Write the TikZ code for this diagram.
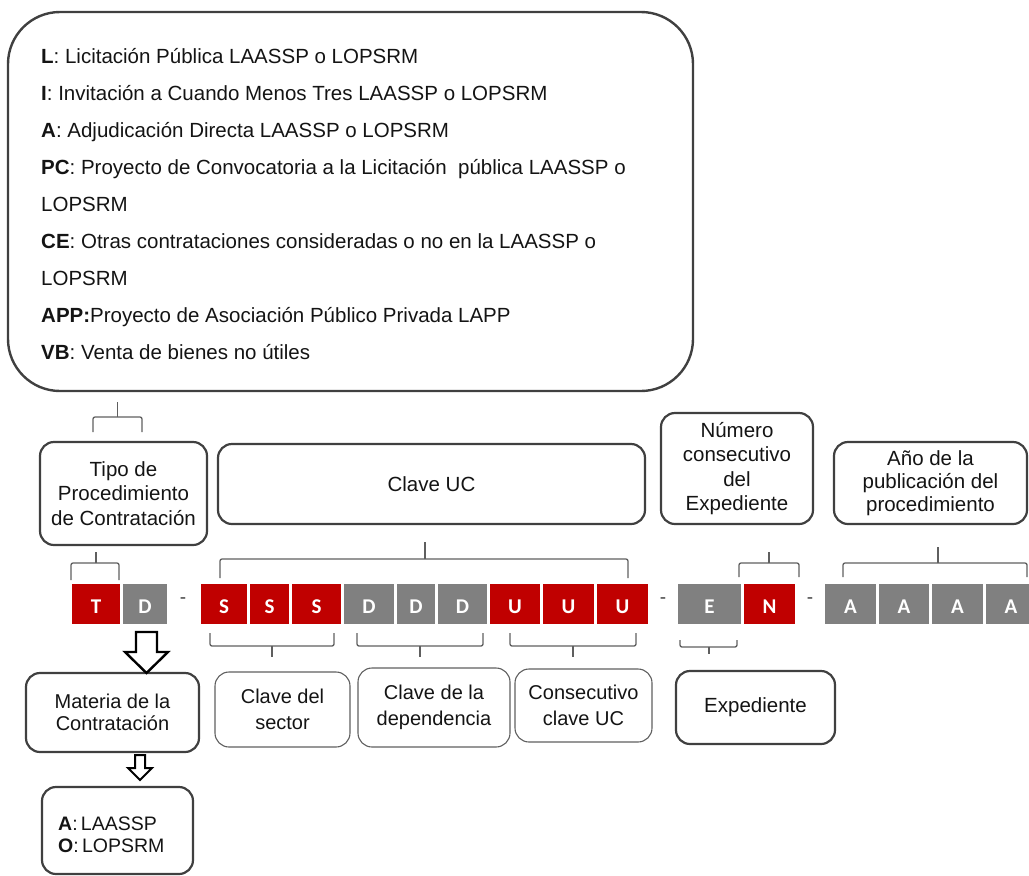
\documentclass[tikz,border=0pt]{standalone}
\usepackage{fontspec}
\setmainfont{Liberation Sans}
\newfontfamily\codefont{Carlito}
\definecolor{cred}{RGB}{192,0,0}
\definecolor{cgray}{RGB}{128,128,128}
\definecolor{bord}{RGB}{64,64,64}
\definecolor{brk}{RGB}{95,95,95}
\definecolor{txt}{RGB}{20,20,20}
\begin{document}
\begin{tikzpicture}[x=1pt,y=-1pt,
 rbox/.style={draw=bord, line width=2.2pt, rounded corners=14pt, align=center, inner sep=0pt, text=txt, font=\fontsize{20.5}{24.5}\selectfont},
 tbox/.style={rbox, line width=1.1pt, draw=brk, font=\fontsize{20}{25.5}\selectfont},
 cell/.style={draw=white, line width=1.2pt, inner sep=0pt, minimum height=42pt, text height=19.5pt, text depth=0pt, text=white, font=\codefont\bfseries\fontsize{21}{21}\selectfont},
 redcell/.style={cell, fill=cred},
 graycell/.style={cell, fill=cgray},
 brack/.style={draw=brk, line width=1.3pt, rounded corners=2pt},
 hollow/.style={draw=black, line width=2.4pt, fill=white, line join=miter},
 legline/.style={anchor=base west, inner sep=0pt, text=txt, font=\fontsize{20.5}{24}\selectfont},
 dashmark/.style={inner sep=0pt, text=bord, font=\fontsize{19}{19}\selectfont},
]
\useasboundingbox (0,0) rectangle (1029,876);

% legend box
\node[draw=bord, line width=2.4pt, rounded corners=52pt, minimum width=685pt, minimum height=379pt, inner sep=0pt] (legend) at (350.5,201.5) {};
\node[legline] (l1) at (41,63) {\textbf{L}: Licitación Pública LAASSP o LOPSRM};
\node[legline] (l2) at (41,100) {\textbf{I}: Invitación a Cuando Menos Tres LAASSP o LOPSRM};
\node[legline] (l3) at (41,137) {\textbf{A}: Adjudicación Directa LAASSP o LOPSRM};
\node[legline] (l4) at (41,174) {\textbf{PC}: Proyecto de Convocatoria a la Licitación\ \ pública LAASSP o};
\node[legline] (l5) at (41,211) {LOPSRM};
\node[legline] (l6) at (41,248) {\textbf{CE}: Otras contrataciones consideradas o no en la LAASSP o};
\node[legline] (l7) at (41,285) {LOPSRM};
\node[legline] (l8) at (41,322) {\textbf{APP:}Proyecto de Asociación Público Privada LAPP};
\node[legline] (l9) at (41,359) {\textbf{VB}: Venta de bienes no útiles};

% upper label boxes
\node[rbox, minimum width=167pt, minimum height=103pt] (tipo) at (123.5,493.5) {Tipo de\\Procedimiento\\de Contratación};
\node[rbox, minimum width=427pt, minimum height=80pt] (claveuc) at (431.5,484) {Clave UC};
\node[rbox, minimum width=152pt, minimum height=111pt] (numero) at (737,468.5) {Número\\consecutivo\\del\\Expediente};
\node[rbox, minimum width=193pt, minimum height=82pt, font=\fontsize{20.5}{23}\selectfont] (anio) at (930.5,483) {Año de la\\publicación del\\procedimiento};

% code cells
\node[redcell, minimum width=50pt] (cT) at (96,604) {T};
\node[graycell, minimum width=46pt] (cD) at (145,604) {D};
\node[dashmark] (d1) at (183,601) {-};
\node[redcell, minimum width=48pt] (cS1) at (224,604) {S};
\node[redcell, minimum width=41pt] (cS2) at (269.5,604) {S};
\node[redcell, minimum width=51pt] (cS3) at (316.5,604) {S};
\node[graycell, minimum width=52pt] (cD1) at (369,604) {D};
\node[graycell, minimum width=40pt] (cD2) at (416,604) {D};
\node[graycell, minimum width=51pt] (cD3) at (462.5,604) {D};
\node[redcell, minimum width=52pt] (cU1) at (515,604) {U};
\node[redcell, minimum width=53pt] (cU2) at (568.5,604) {U};
\node[redcell, minimum width=53pt] (cU3) at (622.5,604) {U};
\node[dashmark] (d2) at (663,601) {-};
\node[graycell, minimum width=65pt] (cE) at (709.5,604) {E};
\node[redcell, minimum width=53pt] (cN) at (769.5,604) {N};
\node[dashmark] (d3) at (810,601) {-};
\node[graycell, minimum width=53pt] (cA1) at (850.5,604) {A};
\node[graycell, minimum width=52pt] (cA2) at (904,604) {A};
\node[graycell, minimum width=53pt] (cA3) at (957.5,604) {A};
\node[graycell, minimum width=52pt] (cA4) at (1011,604) {A};

% brackets above
\draw[brack] (93,432) -- (93,417) -- (142,417) -- (142,432);
\draw[brack] (117.5,417) -- (117.5,402);
\draw[brack] (71,580) -- (71,563) -- (119,563) -- (119,580);
\draw[brack] (96,563) -- (96,552);
\draw[brack] (220,578) -- (220,559) -- (628,559) -- (628,578);
\draw[brack] (425,559) -- (425,542);
\draw[brack] (739,577) -- (739,563) -- (799,563) -- (799,577);
\draw[brack] (769,563) -- (769,552);
\draw[brack] (843,577) -- (843,563) -- (1027,563) -- (1027,577);
\draw[brack] (938,563) -- (938,547);

% brackets below
\draw[brack] (210,633) -- (210,646) -- (334,646) -- (334,633);
\draw[brack] (272,646) -- (272,657);
\draw[brack] (357,633) -- (357,646) -- (483,646) -- (483,633);
\draw[brack] (420,646) -- (420,657);
\draw[brack] (510,633) -- (510,646) -- (636,646) -- (636,633);
\draw[brack] (573,646) -- (573,657);
\draw[brack] (680,640) -- (680,647) -- (737,647) -- (737,640);
\draw[brack] (709,647) -- (709,654);

% lower boxes
\node[rbox, minimum width=173pt, minimum height=79pt, font=\fontsize{20}{22.5}\selectfont] (materia) at (112.5,712.5) {Materia de la\\Contratación};
\node[rbox, minimum width=151pt, minimum height=87pt] (ao) at (117.5,830.5) {};
\node[anchor=base west, inner sep=0pt, text=txt, font=\fontsize{19.5}{22}\selectfont] (aotext1) at (58,830) {\textbf{A}:\,LAASSP};
\node[anchor=base west, inner sep=0pt, text=txt, font=\fontsize{19.5}{22}\selectfont] (aotext2) at (58,852) {\textbf{O}:\,LOPSRM};
\node[tbox, minimum width=135pt, minimum height=75pt] (sector) at (282.5,709.5) {Clave del\\sector};
\node[tbox, minimum width=152pt, minimum height=79pt] (depend) at (434,707.5) {Clave de la\\dependencia};
\node[tbox, minimum width=137pt, minimum height=73pt] (consec) at (583.5,705.5) {Consecutivo\\clave UC};
\node[rbox, minimum width=159pt, minimum height=73pt] (exped) at (755.5,707.5) {Expediente};

% hollow arrows
\draw[hollow] (136,632) -- (157,632) -- (157,652) -- (168,652) -- (146.5,673) -- (125,652) -- (136,652) -- cycle;
\draw[hollow, line width=2pt] (135,755) -- (145,755) -- (145,768) -- (152,768) -- (140,780) -- (128,768) -- (135,768) -- cycle;
\end{tikzpicture}
\end{document}
